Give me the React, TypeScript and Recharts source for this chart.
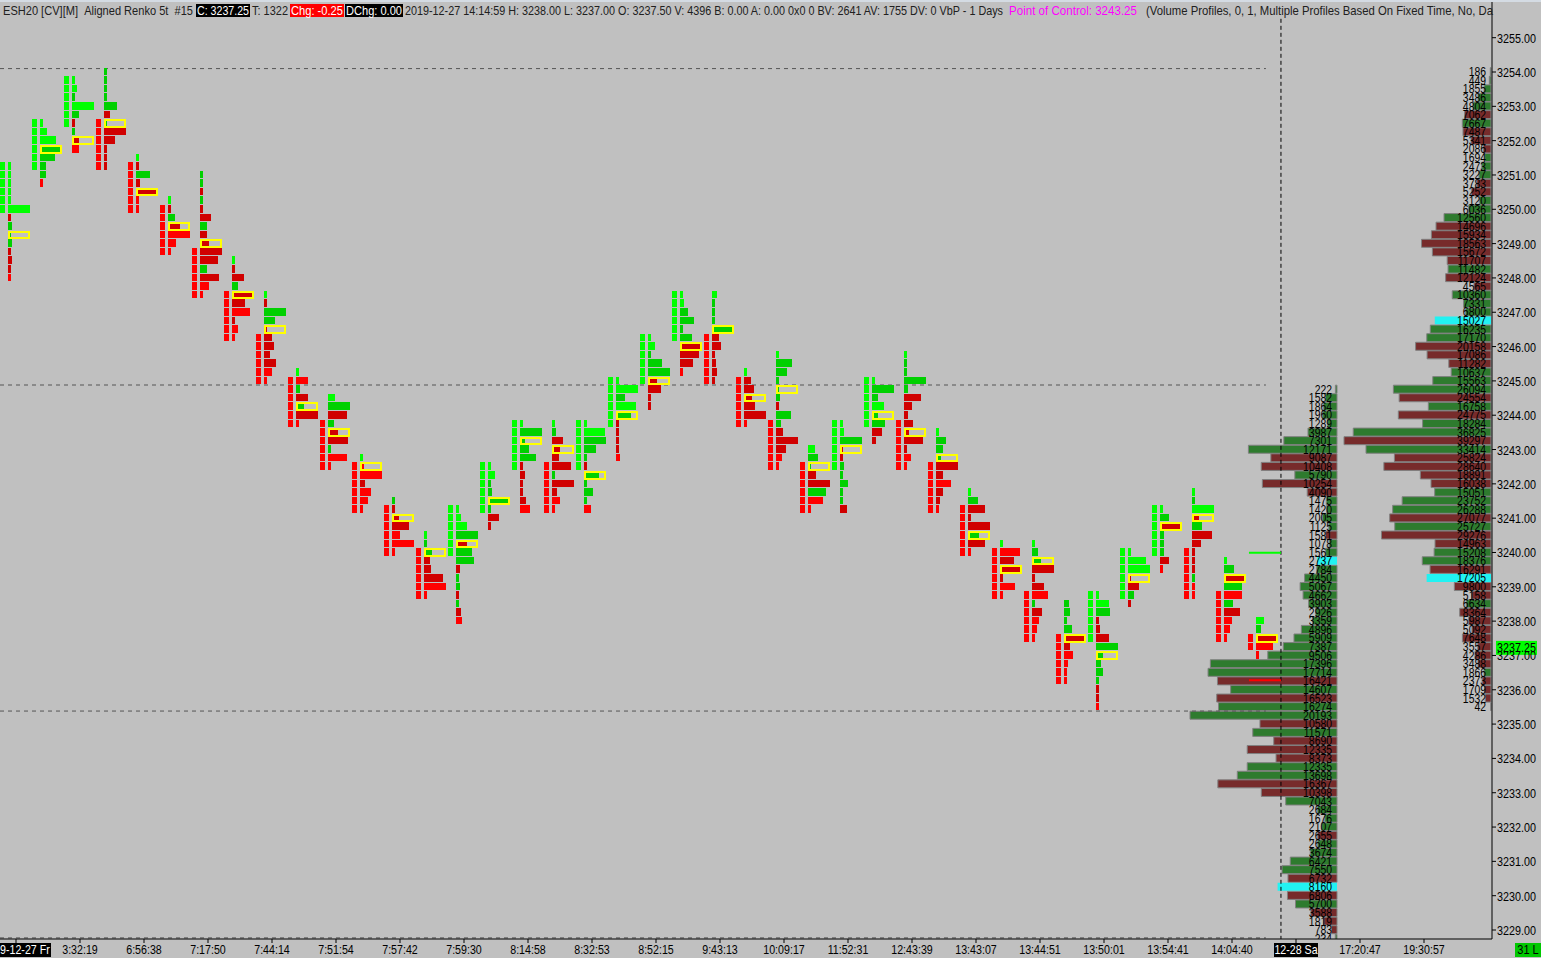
import React from 'react';
import {
  Bar,
  BarChart,
  Cell,
  LabelList,
  ReferenceLine,
  Scatter,
  ScatterChart,
  XAxis,
  YAxis,
} from 'recharts';

// number-bars columns: first row price, renko body range, volume per row, delta class per row, POC row
const colHigh = [
  3251.25, 3252.5, 3253.75, 3254, 3251.5, 3250.25, 3251, 3248.5, 3247.5, 3245.25,
  3244.5, 3242.75, 3241.5, 3240.5, 3241.25, 3242.5, 3243.75, 3243.75, 3243.75, 3245,
  3246.25, 3247.5, 3247.5, 3245.25, 3245.75, 3243, 3243.75, 3245, 3245.75, 3243.5,
  3241.75, 3240.25, 3240.25, 3238.5, 3238.75, 3240, 3241.25, 3241.75, 3239.75, 3238,
];
const colBodyHigh = [
  3251.25, 3252.5, 3253.75, 3252.5, 3251.25, 3250, 3248.75, 3247.5, 3246.25, 3245,
  3243.75, 3242.5, 3241.25, 3240, 3241.25, 3242.5, 3243.75, 3242.5, 3243.75, 3245,
  3246.25, 3247.5, 3246.25, 3245, 3243.75, 3242.5, 3243.75, 3245, 3243.75, 3242.5,
  3241.25, 3240, 3238.75, 3237.5, 3238.75, 3240, 3241.25, 3240, 3238.75, 3237.5,
];
const colBodyLow = [
  3250, 3251.25, 3252.5, 3251.25, 3250, 3248.75, 3247.5, 3246.25, 3245, 3243.75,
  3242.5, 3241.25, 3240, 3238.75, 3240, 3241.25, 3242.5, 3241.25, 3242.5, 3243.75,
  3245, 3246.25, 3245, 3243.75, 3242.5, 3241.25, 3242.5, 3243.75, 3242.5, 3241.25,
  3240, 3238.75, 3237.5, 3236.25, 3237.5, 3238.75, 3240, 3238.75, 3237.5, 3237.25,
];
const colBodyUp = 'UUUDDDDDDDDDDDUUUDUUUUDDDDUUDDDDDDUUUDDD';
const colVolumes = [
  [3, 3, 3, 3, 3, 22, 3, 4, 1, 4, 3, 4, 3, 3],
  [3, 7, 16, 19, 15, 6, 6, 3],
  [3, 5, 3, 22, 7, 3, 3, 5, 7],
  [3, 3, 3, 3, 13, 6, 1, 22, 11, 3, 3, 3],
  [3, 3, 14, 4, 19, 3, 3],
  [3, 3, 7, 10, 22, 8, 3],
  [3, 3, 3, 3, 3, 11, 7, 7, 7, 22, 18, 7, 19, 9, 3],
  [3, 3, 12, 6, 19, 13, 18, 3, 6, 3],
  [3, 3, 22, 11, 1, 8, 10, 6, 12, 8, 3],
  [3, 12, 4, 12, 6, 22, 3],
  [7, 22, 19, 6, 8, 20, 3, 19, 3],
  [3, 2, 22, 5, 11, 8, 3],
  [3, 3, 5, 17, 8, 22, 3],
  [3, 3, 6, 6, 7, 19, 22, 3],
  [3, 5, 11, 22, 9, 16, 18, 4, 3, 4, 3, 3, 5, 6],
  [3, 7, 3, 4, 18, 3, 11, 3],
  [3, 22, 3, 9, 16, 3, 5, 3, 3, 6, 10],
  [3, 4, 11, 6, 7, 19, 3, 22, 5, 8, 3],
  [3, 21, 22, 12, 3, 3, 13, 3, 9, 3, 7],
  [3, 22, 9, 20, 13, 3, 3, 3, 3, 4],
  [3, 7, 3, 14, 22, 7, 13, 3, 3],
  [3, 4, 8, 14, 3, 12, 18, 19, 13, 3],
  [5, 3, 3, 3, 18, 7, 9, 3, 4, 5, 3],
  [3, 7, 10, 6, 11, 22, 3],
  [3, 16, 11, 3, 1, 4, 3, 15, 5, 7, 22, 10, 6, 3],
  [7, 10, 1, 8, 22, 18, 15, 3],
  [3, 4, 22, 1, 3, 4, 3, 8, 3, 3, 7],
  [3, 22, 6, 12, 4, 13, 10, 4],
  [3, 3, 3, 22, 4, 17, 8, 4, 9, 3, 19, 3, 7, 3],
  [3, 10, 7, 3, 22, 7, 15, 7, 4, 3],
  [3, 10, 17, 3, 22, 9, 17, 3],
  [3, 20, 14, 19, 3, 15, 3],
  [3, 6, 7, 22, 3, 12, 16, 3, 10, 7, 5, 3],
  [5, 6, 3, 8, 19, 6, 9, 4, 3, 3],
  [3, 13, 14, 3, 4, 13, 22, 5, 5, 7, 3, 3, 3, 3],
  [3, 18, 22, 1, 11, 6, 3],
  [3, 9, 19, 4, 4, 4, 9, 3],
  [3, 3, 22, 5, 10, 20, 9, 3, 3, 3, 3, 3, 3],
  [3, 10, 19, 18, 18, 9, 16, 8, 6, 3],
  [8, 5, 20, 17, 3],
];
const colDeltas = [
  'LLLLLLrgggrrrR', 'LLLggggR', 'LLgLgrgrR', 'gggggrgrrrrr', 'LrgrrRR', 'LrgrRRR',
  'ggrgrrgrrrrgrRR', 'LrrgrrRrRR', 'LrggrrrrrRR', 'LRgrgrR', 'LgrgrrgRR', 'LRRrRRR',
  'grrrRRR', 'LggrrrRR', 'LLLgrggrggrgrR', 'LLggggrr', 'LggggrrrrrR', 'LgrrrrgrrRR',
  'LLgggrggggR', 'LLgLgrrrrR', 'LLgggrrrr', 'LLggggrrrR', 'Lggggrrrrrr', 'LrrrrrR',
  'LgggggrggrrrRR', 'LggrrgRR', 'LLgrrgggggr', 'LggLggrr', 'LggggrrrrrrrRR', 'LgggrrRrrR',
  'LgrrrgrR', 'LRrrrRR', 'LggrrrRgrRRR', 'ggggrrRRRR', 'LLgrrrgggggrrR', 'LLLrrgr',
  'LgrgggrR', 'LgLrgrrrrrgRR', 'LgrgRgrRRR', 'LgrRR',
];
const colPoc = [
  8, 3, 7, 6, 4, 3, 8, 4, 4, 4, 4, 1, 2, 2, 4, 4, 2, 3, 6, 4,
  5, 6, 4, 3, 4, 2, 3, 4, 9, 3, 5, 3, 2, 4, 7, 3, 2, 3, 2, 2,
];

// volume profiles, top row first, sides grouped by ten rows
const leftProfileHigh = 3244.75;
const leftProfileVolumes = [
  222, 1582, 1864, 1960, 1289, 3987, 7301, 12171, 9087, 10408,
  5790, 10254, 4090, 1475, 1420, 2005, 1125, 1581, 1078, 1561,
  2737, 2784, 4450, 5067, 4662, 3903, 2926, 3359, 4896, 5909,
  7387, 9506, 17396, 17714, 16421, 14607, 16523, 16274, 20193, 10580,
  11571, 8690, 12335, 8373, 12335, 13698, 16367, 10398, 7043, 2684,
  1676, 2107, 2655, 2648, 3674, 6421, 7550, 6732, 8160, 6806,
  5700, 3588, 1819, 783, 234,
];
const leftProfileSides = [
  'ggggggggrr', 'grrggggrgg', 'cggggggggg', 'ggggrgrggr', 'grrrggrrgg', 'ggrggggrcr', 'grrrg',
].join('');
const rightProfileHigh = 3254;
const rightProfileVolumes = [
  186, 449, 1855, 3486, 4804, 7062, 7667, 7487, 5341, 2086,
  1694, 2473, 3227, 3783, 5252, 3120, 6036, 12560, 14696, 15934,
  18563, 15672, 11707, 11482, 12124, 4565, 10360, 7331, 6800, 15027,
  16235, 17170, 20158, 17086, 11282, 10637, 15563, 26094, 24554, 16758,
  24775, 18284, 36825, 39297, 33414, 25824, 28640, 18891, 16038, 15051,
  23752, 26288, 27077, 25727, 29276, 14963, 15208, 18376, 16291, 17205,
  9800, 5158, 6634, 8364, 5987, 5092, 7648, 3557, 4286, 3488,
  1866, 2373, 1709, 1532, 42,
];
const rightProfileSides = [
  'gggggrgrrr', 'gggrrgggrr', 'rrrgrrgggc', 'ggrrrgggrg', 'rggrgrrrrg', 'ggrgrrggrc', 'rrgrrrrrrr', 'grrrr',
].join('');

const priceTicks = [
  3255, 3254, 3253, 3252, 3251, 3250, 3249, 3248, 3247, 3246, 3245, 3244, 3243, 3242, 3241, 3240,
  3239, 3238, 3237, 3236, 3235, 3234, 3233, 3232, 3231, 3230, 3229,
];
const timeTicks = [
  0.5, 2.5, 4.5, 6.5, 8.5, 10.5, 12.5, 14.5, 16.5, 18.5, 20.5, 22.5, 24.5, 26.5, 28.5, 30.5,
  32.5, 34.5, 36.5, 38.5, 40.5, 42.5, 44.5,
];
const timeLabels = [
  '2019-12-27 Fr', '3:32:19', '6:56:38', '7:17:50', '7:44:14', '7:51:54', '7:57:42', '7:59:30',
  '8:14:58', '8:32:53', '8:52:15', '9:43:13', '10:09:17', '11:52:31', '12:43:39', '13:43:07',
  '13:44:51', '13:50:01', '13:54:41', '14:04:40', '12-28 Sa', '17:20:47', '19:30:57',
];
const dayLevels = [3254.1, 3244.88, 3235.38, 3228.77];
const lastPrice = 3237.25;
const nextUp = 3239.99;
const nextDown = 3236.28;

const W = 1541;
const H = 958;
const PLOT_TOP = 2;
const PLOT_BOTTOM = 939;
const PLOT_RIGHT = 1492;
const PX_PER_COL = 32;
const ROW_HALF = 4.29;
const PRICE_DOMAIN: [number, number] = [3228.738, 3256.04];
const FONT = '"Liberation Sans", Arial, sans-serif';
const BG = '#c0c0c0';

const DELTA_COLORS: Record<string, string> = { L: '#00ff00', g: '#00d000', r: '#d00000', R: '#ff0000' };
const SIDE_COLORS: Record<string, string> = { g: '#2e7b2e', r: '#772b2b', c: '#22f2f2' };

const bodyRows: any[] = [];
const cellRows: any[] = [];
colHigh.forEach((high, col) => {
  for (let p = colBodyHigh[col]; p >= colBodyLow[col]; p -= 0.25) {
    bodyRows.push({ col, price: p, up: colBodyUp[col] === 'U' });
  }
  colVolumes[col].forEach((volume, i) => {
    cellRows.push({ col, price: high - i * 0.25, volume, delta: colDeltas[col][i], poc: i === colPoc[col] });
  });
});
const tagRows = [{ col: PLOT_RIGHT / PX_PER_COL, price: lastPrice }];

const toProfile = (high: number, volumes: number[], sides: string) =>
  volumes.map((volume, i) => ({ price: high - i * 0.25, volume, side: sides[i] || 'g' }));

const rowBox = (cy: number) => {
  const top = Math.round(cy - ROW_HALF);
  return { top, height: Math.round(cy + ROW_HALF) - top - 1 };
};

const NarrowText = ({ x, y, sx = 0.8, anchor = 'start', fill = '#000', size = 13, children }: any) => (
  <text
    transform={`translate(${x},${y}) scale(${sx},1)`}
    textAnchor={anchor}
    fontFamily={FONT}
    fontSize={size}
    fill={fill}
  >
    {children}
  </text>
);

const BodyShape = ({ cx, cy, payload }: any) => {
  const { top, height } = rowBox(cy);
  return (
    <rect
      x={Math.round(cx)}
      y={top}
      width={5}
      height={height}
      fill={payload.up ? '#00ff00' : '#ff0000'}
      shapeRendering="crispEdges"
    />
  );
};

const CellShape = ({ cx, cy, payload }: any) => {
  const x = Math.round(cx) + 8;
  const { top, height } = rowBox(cy);
  const fill = DELTA_COLORS[payload.delta];
  if (payload.poc) {
    // yellow frame drawn as nested fills so the 2px border stays solid
    return (
      <g shapeRendering="crispEdges">
        <rect x={x} y={top} width={22} height={height + 1} fill="#ffff00" />
        <rect x={x + 2} y={top + 2} width={18} height={height - 3} fill={BG} />
        <rect x={x + 2} y={top + 2} width={Math.min(payload.volume, 18)} height={height - 3} fill={fill} />
      </g>
    );
  }
  return <rect x={x} y={top} width={payload.volume} height={height} fill={fill} shapeRendering="crispEdges" />;
};

const PriceTag = ({ cx, cy }: any) => (
  <g>
    <rect x={cx + 4} y={cy - 6} width={41} height={14} fill="#00ff00" />
    <NarrowText x={cx + 5} y={cy + 5.5} sx={0.83}>
      {lastPrice.toFixed(2)}
    </NarrowText>
  </g>
);

const PriceTick = ({ x, y, payload }: any) => (
  <NarrowText x={x - 1} y={y + 5} sx={0.83}>
    {payload.value.toFixed(2)}
  </NarrowText>
);

const TimeTick = ({ x, y, index }: any) => {
  const label = timeLabels[index];
  const boxed = label.includes('-');
  const boxWidth = index === 0 ? 70 : 44;
  return (
    <g>
      {boxed && <rect x={x - boxWidth / 2} y={y + 0} width={boxWidth} height={14} fill="#000" />}
      <NarrowText x={x} y={y + 11} anchor="middle" sx={0.82} fill={boxed ? '#fff' : '#000'}>
        {label}
      </NarrowText>
    </g>
  );
};

const ProfileChart = ({ data, maxVolume, left }: any) => {
  const plotWidth = 147;
  const labelEdge = 10 + plotWidth - 5;
  return (
    <div style={{ position: 'absolute', left, top: 0 }}>
      <BarChart
        width={plotWidth + 11}
        height={PLOT_BOTTOM}
        data={data}
        layout="vertical"
        margin={{ top: PLOT_TOP, right: 1, bottom: 0, left: 10 }}
      >
        <XAxis type="number" domain={[0, maxVolume]} reversed hide />
        <YAxis type="number" dataKey="price" domain={PRICE_DOMAIN} reversed hide />
        <Bar dataKey="volume" barSize={8} isAnimationActive={false}>
          {data.map((row: any, i: number) => (
            <Cell
              key={i}
              fill={SIDE_COLORS[row.side]}
              stroke={row.side === 'c' ? 'none' : '#808080'}
              strokeWidth={1}
            />
          ))}
          <LabelList
            dataKey="volume"
            content={({ y, height, value }: any) => (
              <NarrowText x={labelEdge} y={y + height / 2 + 4.5} anchor="end" sx={0.8}>
                {value}
              </NarrowText>
            )}
          />
        </Bar>
      </BarChart>
    </div>
  );
};

const HeaderText = ({ x, end, fill = '#202020', children }: any) => (
  <text x={x} y={15} fontFamily={FONT} fontSize={13} fill={fill} textLength={end - x} lengthAdjust="spacingAndGlyphs">
    {children}
  </text>
);

const Header = () => (
  <svg width={W} height={20} style={{ position: 'absolute', left: 0, top: 0 }}>
    <rect x={196} y={4} width={54} height={13} fill="#000" />
    <rect x={290} y={4} width={54} height={13} fill="#ff0000" />
    <rect x={345} y={4} width={58} height={13} fill="#000" />
    <HeaderText x={3} end={193}>
      ESH20 [CV][M]{'\u00a0\u00a0'}Aligned Renko 5t{'\u00a0\u00a0'}#15
    </HeaderText>
    <HeaderText x={197} end={249} fill="#fff">
      C: 3237.25
    </HeaderText>
    <HeaderText x={252} end={288}>
      T: 1322
    </HeaderText>
    <HeaderText x={291} end={343} fill="#fff">
      Chg: -0.25
    </HeaderText>
    <HeaderText x={346} end={402} fill="#fff">
      DChg: 0.00
    </HeaderText>
    <HeaderText x={405} end={1003}>
      2019-12-27 14:14:59 H: 3238.00 L: 3237.00 O: 3237.50 V: 4396 B: 0.00 A: 0.00 0x0 0 BV: 2641 AV: 1755 DV: 0 VbP - 1 Days
    </HeaderText>
    <HeaderText x={1009} end={1137} fill="#ff00ff">
      Point of Control: 3243.25
    </HeaderText>
    <HeaderText x={1146} end={1493}>
      (Volume Profiles, 0, 1, Multiple Profiles Based On Fixed Time, No, Da
    </HeaderText>
  </svg>
);

export default function App() {
  const leftProfile = toProfile(leftProfileHigh, leftProfileVolumes, leftProfileSides);
  const rightProfile = toProfile(rightProfileHigh, rightProfileVolumes, rightProfileSides);

  return (
    <div style={{ position: 'absolute', left: 0, top: 0, width: W, height: H, background: BG, overflow: 'hidden' }}>
      <div style={{ position: 'absolute', left: 0, top: 0, width: W, height: 2, background: '#d4dbe3' }} />
      <ProfileChart data={leftProfile} maxVolume={20193} left={1180} />
      <ProfileChart data={rightProfile} maxVolume={39297} left={1334} />
      <div style={{ position: 'absolute', left: 0, top: 0 }}>
        <ScatterChart width={W} height={H} margin={{ top: PLOT_TOP, right: 0, bottom: 0, left: 0 }}>
          <XAxis
            type="number"
            dataKey="col"
            domain={[0, PLOT_RIGHT / PX_PER_COL]}
            ticks={timeTicks}
            interval={0}
            height={19}
            tickSize={4}
            tickMargin={0}
            stroke="#000"
            tick={<TimeTick />}
          />
          <YAxis
            type="number"
            dataKey="price"
            orientation="right"
            domain={PRICE_DOMAIN}
            ticks={priceTicks}
            interval={0}
            width={49}
            tickSize={4}
            tickMargin={2}
            stroke="#000"
            tick={<PriceTick />}
          />
          {dayLevels.map((level) => (
            <ReferenceLine
              key={level}
              segment={[
                { x: 0, y: level },
                { x: 39.56, y: level },
              ]}
              stroke="#555"
              strokeDasharray="4 4"
            />
          ))}
          <ReferenceLine
            segment={[
              { x: 40.03, y: 3255.55 },
              { x: 40.03, y: 3228.74 },
            ]}
            stroke="#000"
            strokeDasharray="4 3"
          />
          <ReferenceLine
            segment={[
              { x: 39.03, y: nextUp },
              { x: 40.03, y: nextUp },
            ]}
            stroke="#00ff00"
            strokeWidth={2}
          />
          <ReferenceLine
            segment={[
              { x: 39.03, y: nextDown },
              { x: 40.03, y: nextDown },
            ]}
            stroke="#ff0000"
            strokeWidth={2}
          />
          <Scatter data={bodyRows} shape={<BodyShape />} isAnimationActive={false} />
          <Scatter data={cellRows} shape={<CellShape />} isAnimationActive={false} />
          <Scatter data={tagRows} shape={<PriceTag />} isAnimationActive={false} />
        </ScatterChart>
      </div>
      <Header />
      <svg width={W} height={H} style={{ position: 'absolute', left: 0, top: 0, pointerEvents: 'none' }}>
        <rect x={1515} y={943} width={26} height={14} fill="#00c800" />
        <NarrowText x={1528} y={954} anchor="middle" sx={0.85}>
          31 L
        </NarrowText>
      </svg>
    </div>
  );
}
